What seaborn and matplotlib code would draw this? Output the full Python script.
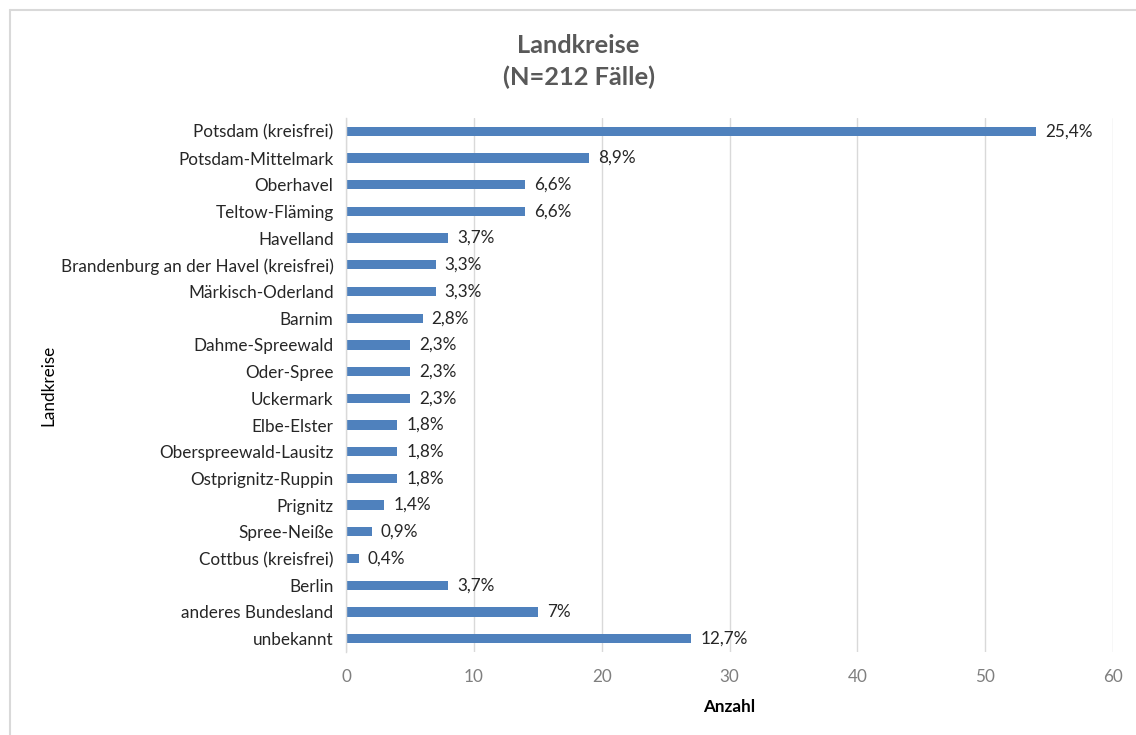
import matplotlib
matplotlib.use("Agg")
import matplotlib.pyplot as plt
import seaborn as sns
import pandas as pd
from matplotlib.lines import Line2D

categories = ["Potsdam (kreisfrei)", "Potsdam-Mittelmark", "Oberhavel", "Teltow-Fläming",
              "Havelland", "Brandenburg an der Havel (kreisfrei)", "Märkisch-Oderland",
              "Barnim", "Dahme-Spreewald", "Oder-Spree", "Uckermark", "Elbe-Elster",
              "Oberspreewald-Lausitz", "Ostprignitz-Ruppin", "Prignitz", "Spree-Neiße",
              "Cottbus (kreisfrei)", "Berlin", "anderes Bundesland", "unbekannt"]
counts = [54, 19, 14, 14, 8, 7, 7, 6, 5, 5, 5, 4, 4, 4, 3, 2, 1, 8, 15, 27]
pct_labels = ["25,4%", "8,9%", "6,6%", "6,6%", "3,7%", "3,3%", "3,3%", "2,8%", "2,3%",
              "2,3%", "2,3%", "1,8%", "1,8%", "1,8%", "1,4%", "0,9%", "0,4%", "3,7%",
              "7%", "12,7%"]
x_ticks = [0, 10, 20, 30, 40, 50, 60]

sns.set_theme(style="white")
plt.rcParams['font.family'] = ['Lato', 'DejaVu Sans']

df = pd.DataFrame({"Landkreis": categories, "Anzahl": counts})

fig = plt.figure(figsize=(11.36, 7.35), dpi=100)
ax = fig.add_axes([0.3046, 0.113, 0.9798 - 0.3046, 0.8395 - 0.113])

sns.barplot(data=df, y="Landkreis", x="Anzahl", orient="h", color="#4F81BD",
            width=0.35, ax=ax, saturation=1, edgecolor="#4F81BD", linewidth=0)

for i, (c, lab) in enumerate(zip(counts, pct_labels)):
    ax.text(c + 0.7, i, lab, va="center", ha="left", fontsize=12.3, color="#262626")

ax.set_xlim(0, 60)
ax.set_xticks(x_ticks)
ax.set_xticklabels([str(t) for t in x_ticks], color="#7F7F7F", fontsize=12.3)
ax.tick_params(axis="y", labelsize=12.3, labelcolor="#262626", length=0, pad=9)
ax.tick_params(axis="x", length=0, pad=12)
ax.set_ylim(len(categories) - 0.5, -0.5)
ax.xaxis.grid(True, color="#D9D9D9", linewidth=1)
ax.set_axisbelow(True)
for s in ["top", "right", "bottom"]:
    ax.spines[s].set_visible(False)
ax.spines["left"].set_color("#D9D9D9")
ax.spines["left"].set_linewidth(1)

ax.set_xlabel("Anzahl", fontsize=12.3, fontweight="bold", color="#000000", labelpad=10)
ax.set_ylabel("Landkreise", fontsize=12.3, color="#000000")
ax.yaxis.set_label_coords(-0.378, 0.5)

fig.text(0.5093, 0.9163, "Landkreise\n(N=212 Fälle)", ha="center", va="center",
         fontsize=18.3, fontweight="bold", color="#595959", linespacing=1.45)

x0 = 10 / 1136
y0 = 1 - 10 / 735
fig.lines.append(Line2D([x0, 1.0], [y0, y0], transform=fig.transFigure,
                        color="#D9D9D9", linewidth=1.5))
fig.lines.append(Line2D([x0, x0], [0.0, y0], transform=fig.transFigure,
                        color="#D9D9D9", linewidth=1.5))

fig.savefig("out.png", dpi=100, facecolor="white")
